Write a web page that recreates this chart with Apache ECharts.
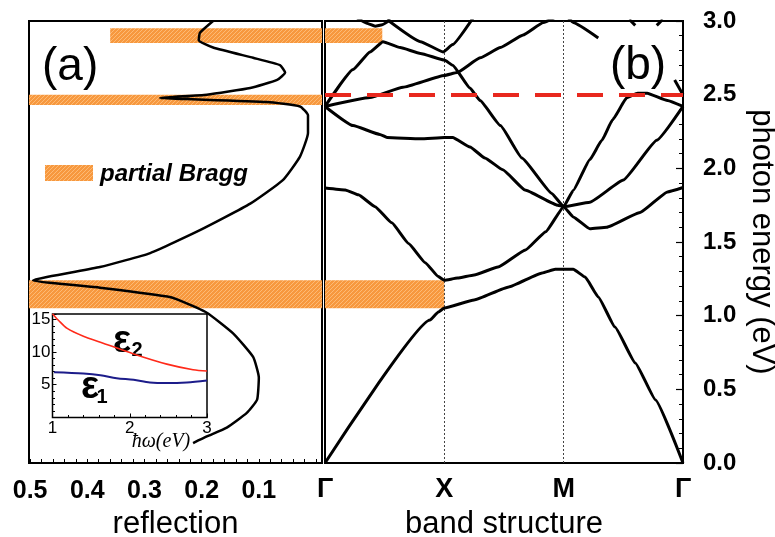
<!DOCTYPE html>
<html><head><meta charset="utf-8">
<script src="https://cdn.jsdelivr.net/npm/echarts@6/dist/echarts.min.js"></script>
<style>html,body{margin:0;padding:0;background:#fff}#c{width:775px;height:537px}</style>
</head><body><div id="c"></div><script>
// ---------- data ----------
const kLabels = ['Γ', 'X', 'M', 'Γ'];
const reflTickLabels = [0.5, 0.4, 0.3, 0.2, 0.1];
const reflMinorTicks = [0, 0.02, 0.04, 0.06, 0.08, 0.1, 0.12, 0.14, 0.16, 0.18, 0.2, 0.22, 0.24, 0.26, 0.28, 0.3, 0.32, 0.34, 0.36, 0.38, 0.4, 0.42, 0.44, 0.46, 0.48, 0.5];

// reflection spectrum: [reflection, photon energy eV]
const reflection = [[0.180,3.0],[0.203,2.92],[0.205,2.87],[0.180,2.82],[0.110,2.75],[0.063,2.70],[0.054,2.65],[0.068,2.60],[0.115,2.545],[0.191,2.50],[0.273,2.477],[0.226,2.47],[0.086,2.45],[0.028,2.42],[0.014,2.36],[0.014,2.24],[0.028,2.08],[0.058,1.92],[0.115,1.76],[0.203,1.58],[0.290,1.425],[0.378,1.33],[0.495,1.24],[0.378,1.19],[0.260,1.13],[0.243,1.11],[0.191,1.02],[0.145,0.88],[0.110,0.72],[0.100,0.58],[0.103,0.43],[0.121,0.34],[0.156,0.24],[0.191,0.18],[0.215,0.135]];

// partial Bragg bands
const braggLow = [2.85, 2.43, 1.05];
const braggHigh = [2.95, 2.50, 1.24];
const braggReflStart = [0.36, 0.502, 0.502];
const braggKEnd = [0.48, 0, 1];

// band structure: [k (Γ=0, X=1, M=2, Γ=3), energy eV]
const band1 = [[0,0],[0.88,0.97],[0.95,1.025],[1.0,1.052],[1.25,1.106],[1.54,1.195],[1.82,1.29],[1.93,1.315],[2.08,1.315],[2.18,1.262],[2.29,1.127],[2.43,0.923],[2.60,0.679],[2.77,0.428],[3.0,0]];
const band2 = [[0,1.866],[0.17,1.853],[0.28,1.82],[0.42,1.74],[0.56,1.63],[0.70,1.49],[0.84,1.36],[0.95,1.265],[1.0,1.24],[1.11,1.255],[1.25,1.276],[1.45,1.33],[1.68,1.446],[1.85,1.57],[2.0,1.74],[2.08,1.67],[2.22,1.59],[2.36,1.60],[2.64,1.70],[2.87,1.84],[3.0,1.87]];
const band3 = [[0,2.42],[0.235,2.29],[0.46,2.23],[0.52,2.21],[0.8,2.20],[1.0,2.21],[1.07,2.21],[1.215,2.145],[1.34,2.07],[1.49,1.99],[1.676,1.853],[1.95,1.75],[2.0,1.74],[2.22,1.77],[2.5,1.92],[2.78,2.19],[3.0,2.42]];
const band4 = [[0,2.42],[0.235,2.67],[0.377,2.79],[0.486,2.86],[0.63,2.82],[0.8,2.78],[1.0,2.735],[1.07,2.70],[1.215,2.545],[1.30,2.46],[1.47,2.29],[1.65,2.07],[1.90,1.83],[2.0,1.74],[2.08,1.85],[2.22,2.06],[2.32,2.19],[2.41,2.33],[2.53,2.48],[2.62,2.51],[2.70,2.51],[2.87,2.46],[3.0,2.42]];
const band5 = [[0,2.42],[0.377,2.48],[0.654,2.55],[1.0,2.63],[1.107,2.65],[1.30,2.75],[1.47,2.82],[1.66,2.905],[1.83,2.99],[2.0,3.05],[2.08,2.99],[2.29,2.885]];
const band6 = [[0.52,3.01],[0.8,2.86],[0.99,2.79],[1.07,2.84],[1.24,3.02]];
const band7 = [[0.27,3.02],[0.35,2.985],[0.42,2.965],[0.48,2.975],[0.55,3.01]];
const band8 = [[2.55,3.01],[2.6,2.97]];
const band9 = [[2.78,2.97],[2.83,3.01]];
const band10 = [[2.93,2.60],[3.0,2.50]];
const symmetryK = [1, 2];
const dashedEnergy = 2.5;

// inset: dielectric function vs photon energy
const eps2 = [[1.0,15.85],[1.08,14.8],[1.19,13.6],[1.40,12.4],[1.62,11.5],[2.05,9.7],[2.48,8.15],[2.82,7.3],[3.0,7.1]];
const eps1 = [[1.02,6.9],[1.40,6.7],[1.62,6.45],[1.83,6.0],[2.05,5.75],[2.26,5.35],[2.48,5.25],[2.74,5.35],[3.0,5.65]];

// ---------- drawing ----------
function hatch(){
  const c=document.createElement('canvas'); c.width=4; c.height=4;
  const g=c.getContext('2d');
  g.fillStyle='#f7983e'; g.fillRect(0,0,4,4);
  g.strokeStyle='#fdba74'; g.lineWidth=1;
  g.beginPath();
  g.moveTo(0,4); g.lineTo(4,0);
  g.moveTo(-1,1); g.lineTo(1,-1);
  g.moveTo(3,5); g.lineTo(5,3);
  g.stroke();
  return c;
}
const pat = {image: hatch(), repeat: 'repeat'};
const F = '"Liberation Sans", Arial, sans-serif';
const black = '#000';
const noLine = {show:false, onZero:false};

const leftAreas = braggLow.map((lo,i)=>[{xAxis: braggReflStart[i], yAxis: braggHigh[i]}, {xAxis: -0.0105, yAxis: lo}]);
const rightAreas = braggLow.map((lo,i)=>[{xAxis: 0, yAxis: braggHigh[i]}, {xAxis: braggKEnd[i], yAxis: lo}]).filter((a,i)=>braggKEnd[i]>0);

function bandSeries(d, extra){
  return Object.assign({type:'line', xAxisIndex:1, yAxisIndex:1, data:d, showSymbol:false, smooth:0.12, smoothMonotone:'x',
    lineStyle:{color:black, width:3}, silent:true, z:3}, extra||{});
}

const chart = echarts.init(document.getElementById('c'), null, {renderer:'canvas'});
chart.setOption({
  animation:false,
  grid:[
    {left:29, top:21, width:293, height:442, show:true, borderColor:black, borderWidth:2, containLabel:false, outerBoundsMode:'none'},
    {left:325, top:21, width:358, height:442, show:true, borderColor:black, borderWidth:2, containLabel:false, outerBoundsMode:'none'},
    {left:52.5, top:314, width:154.5, height:103.5, show:true, borderColor:black, borderWidth:1.5, containLabel:false, outerBoundsMode:'none'}
  ],
  xAxis:[
    {gridIndex:0, type:'value', inverse:true, min:-0.0105, max:0.502,
     name:'reflection', nameLocation:'middle', nameGap:46, nameTextStyle:{fontFamily:F, fontSize:31, color:black},
     axisLine:noLine, splitLine:{show:false},
     axisTick:{show:true, inside:true, length:4, customValues:reflMinorTicks, lineStyle:{color:black, width:1}},
     axisLabel:{customValues:reflTickLabels, formatter:v=>v.toFixed(1), margin:16, fontFamily:F, fontSize:25, fontWeight:'bold', color:black}},
    {gridIndex:1, type:'value', min:0, max:3, interval:1,
     name:'band structure', nameLocation:'middle', nameGap:46, nameTextStyle:{fontFamily:F, fontSize:31, color:black},
     axisLine:noLine, splitLine:{show:false}, axisTick:{show:false},
     axisLabel:{formatter:v=>kLabels[v]||'', margin:13, fontFamily:F, fontSize:27, fontWeight:'bold', color:black}},
    {gridIndex:2, type:'value', min:1, max:3, interval:1,
     axisLine:noLine, splitLine:{show:false},
     axisTick:{inside:true, length:4, lineStyle:{color:black}},
     minorTick:{show:true, splitNumber:5, length:2.5, lineStyle:{color:black}},
     axisLabel:{margin:2, fontFamily:F, fontSize:17, color:black}}
  ],
  yAxis:[
    {gridIndex:0, type:'value', min:0, max:3, show:false, axisLine:noLine, axisTick:{show:false}, axisLabel:{show:false}, splitLine:{show:false}},
    {gridIndex:1, type:'value', min:0, max:3, interval:0.5, position:'right',
     name:'photon energy (eV)', nameLocation:'middle', nameRotate:-90, nameGap:63, nameTextStyle:{fontFamily:F, fontSize:31, color:black},
     axisLine:noLine, splitLine:{show:false},
     axisTick:{inside:true, length:7, lineStyle:{color:black, width:1.2}},
     minorTick:{show:true, splitNumber:5, length:4, lineStyle:{color:black}},
     axisLabel:{margin:20, formatter:v=>v.toFixed(1), fontFamily:F, fontSize:24, fontWeight:'bold', color:black}},
    {gridIndex:2, type:'value', min:0, max:15.8, interval:5,
     axisLine:noLine, splitLine:{show:false},
     axisTick:{inside:true, length:4, lineStyle:{color:black}},
     minorTick:{show:true, splitNumber:5, length:2.5, lineStyle:{color:black}},
     axisLabel:{margin:2, formatter:v=>(v>0 && v%5===0)?String(v):'', fontFamily:F, fontSize:17, color:black}}
  ],
  series:[
    {type:'line', xAxisIndex:0, yAxisIndex:0, data:reflection, showSymbol:false, smooth:0.15,
     lineStyle:{color:black, width:2.5}, silent:true, z:3,
     markArea:{silent:true, itemStyle:{color:pat}, data:leftAreas}},
    bandSeries(band1, {markArea:{silent:true, itemStyle:{color:pat}, data:rightAreas}}),
    bandSeries(band2, {markLine:{silent:true, symbol:['none','none'], label:{show:false}, z:2,
       lineStyle:{color:'#444', width:1, type:[2,2]}, data:symmetryK.map(k=>({xAxis:k}))}}),
    bandSeries(band3, {markLine:{silent:true, symbol:['none','none'], label:{show:false}, z:6,
       lineStyle:{color:'#e8281e', width:4, type:[26,16]}, data:[{yAxis:dashedEnergy}]}}),
    bandSeries(band4), bandSeries(band5), bandSeries(band6), bandSeries(band7),
    bandSeries(band8), bandSeries(band9), bandSeries(band10),
    {type:'line', xAxisIndex:2, yAxisIndex:2, data:eps2, showSymbol:false, smooth:0.3,
     lineStyle:{color:'#ff2a1a', width:1.6}, silent:true},
    {type:'line', xAxisIndex:2, yAxisIndex:2, data:eps1, showSymbol:false, smooth:0.3,
     lineStyle:{color:'#1c1c8a', width:2}, silent:true}
  ],
  graphic:[
    {type:'rect', shape:{x:45, y:165, width:48, height:16}, style:{fill:pat}, silent:true},
    {type:'text', x:100, y:174, style:{text:'partial Bragg', font:'italic bold 24px "Liberation Sans", Arial, sans-serif', fill:black, verticalAlign:'middle'}, silent:true},
    {type:'text', x:42, y:67, style:{text:'(a)', font:'46px "Liberation Sans", Arial, sans-serif', fill:black, verticalAlign:'middle'}, silent:true},
    {type:'text', x:638, y:66, style:{text:'(b)', font:'46px "Liberation Sans", Arial, sans-serif', fill:black, align:'center', verticalAlign:'middle'}, silent:true},
    {type:'text', x:122, y:342, style:{text:'ε', font:'bold 38px "Liberation Sans", Arial, sans-serif', fill:black, align:'center', verticalAlign:'middle'}, silent:true},
    {type:'text', x:137, y:350, style:{text:'2', font:'bold 20px "Liberation Sans", Arial, sans-serif', fill:black, align:'center', verticalAlign:'middle'}, silent:true},
    {type:'text', x:90, y:388, style:{text:'ε', font:'bold 38px "Liberation Sans", Arial, sans-serif', fill:black, align:'center', verticalAlign:'middle'}, silent:true},
    {type:'text', x:102, y:397, style:{text:'1', font:'bold 20px "Liberation Sans", Arial, sans-serif', fill:black, align:'center', verticalAlign:'middle'}, silent:true},
    {type:'text', x:161, y:442, style:{text:'ħω(eV)', font:'italic 20px "Liberation Serif", "DejaVu Serif", serif', fill:black, align:'center', verticalAlign:'middle'}, silent:true}
  ]
});
</script></body></html>
